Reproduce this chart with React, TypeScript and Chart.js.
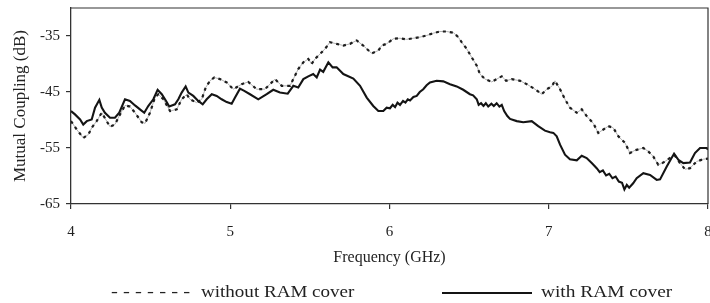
import React, { useEffect, useRef } from "react";
import { Chart, registerables } from "chart.js";

Chart.register(...registerables);

const xTicks = [4, 5, 6, 7, 8];
const yTicks = [-65, -55, -45, -35];

const withoutLabel = "without RAM cover";
const withLabel = "with RAM cover";

const withoutFreq = [
  4.0, 4.036, 4.077, 4.109, 4.13, 4.161, 4.193, 4.224, 4.245, 4.276, 4.308, 4.339, 4.37, 4.402,
  4.444, 4.465, 4.496, 4.527, 4.548, 4.58, 4.622, 4.664, 4.695, 4.727, 4.747, 4.789, 4.821, 4.846,
  4.873, 4.9, 4.936, 4.978, 5.019, 5.072, 5.113, 5.166, 5.218, 5.281, 5.323, 5.375, 5.396, 5.427,
  5.459, 5.49, 5.511, 5.532, 5.564, 5.595, 5.626, 5.668, 5.71, 5.752, 5.794, 5.835, 5.888, 5.93,
  5.951, 5.982, 6.024, 6.066, 6.108, 6.149, 6.192, 6.234, 6.275, 6.317, 6.359, 6.401, 6.432, 6.453,
  6.485, 6.516, 6.548, 6.568, 6.6, 6.642, 6.673, 6.705, 6.732, 6.767, 6.82, 6.862, 6.914, 6.956,
  6.987, 7.019, 7.039, 7.071, 7.102, 7.133, 7.176, 7.207, 7.238, 7.28, 7.311, 7.343, 7.374, 7.405,
  7.437, 7.479, 7.51, 7.542, 7.594, 7.625, 7.656, 7.688, 7.719, 7.761, 7.793, 7.824, 7.856, 7.887,
  7.929, 7.971, 8.0,
];
const withoutDb = [
  -50.2, -51.7, -53.2, -52.6, -51.4, -50.2, -48.7, -50.2, -51.2, -50.8, -49.0, -47.4, -47.6, -48.7,
  -50.4, -50.6, -48.7, -46.0, -45.4, -46.3, -48.4, -48.1, -46.3, -45.4, -46.3, -46.9, -46.3, -44.2,
  -43.0, -42.4, -42.7, -43.3, -44.5, -43.6, -43.2, -44.5, -44.5, -42.7, -43.9, -43.9, -42.7, -40.9,
  -39.7, -39.1, -40.0, -39.1, -38.2, -37.3, -36.1, -36.4, -36.7, -36.4, -35.8, -36.7, -38.1, -37.6,
  -36.7, -36.4, -35.5, -35.4, -35.6, -35.4, -35.2, -34.9, -34.5, -34.2, -34.2, -34.4, -35.2, -36.1,
  -37.3, -38.8, -40.3, -41.8, -42.7, -43.2, -42.7, -42.2, -43.0, -42.7, -43.0, -43.6, -44.5, -45.4,
  -44.5, -44.0, -43.0, -44.5, -46.3, -47.8, -48.7, -48.1, -49.3, -50.6, -52.3, -51.7, -51.1, -51.4,
  -52.9, -54.1, -55.9, -55.4, -55.0, -55.6, -56.5, -58.0, -57.6, -56.8, -56.4, -57.7, -58.8, -58.6,
  -57.4, -57.0, -56.9,
];

const withFreq = [
  4.0, 4.025, 4.057, 4.077, 4.099, 4.13, 4.151, 4.178, 4.193, 4.213, 4.245, 4.276, 4.303, 4.339,
  4.37, 4.402, 4.433, 4.46, 4.485, 4.517, 4.544, 4.57, 4.597, 4.617, 4.653, 4.674, 4.695, 4.72,
  4.737, 4.768, 4.799, 4.827, 4.852, 4.884, 4.915, 4.946, 4.978, 5.009, 5.03, 5.061, 5.088, 5.124,
  5.176, 5.229, 5.27, 5.312, 5.361, 5.396, 5.427, 5.459, 5.49, 5.521, 5.543, 5.564, 5.584, 5.616,
  5.643, 5.668, 5.71, 5.773, 5.815, 5.857, 5.898, 5.93, 5.961, 5.982, 6.003, 6.02, 6.035, 6.05,
  6.066, 6.085, 6.1, 6.115, 6.129, 6.15, 6.171, 6.19, 6.212, 6.233, 6.254, 6.296, 6.338, 6.38,
  6.422, 6.463, 6.505, 6.525, 6.548, 6.56, 6.575, 6.59, 6.605, 6.62, 6.64, 6.655, 6.673, 6.69,
  6.705, 6.72, 6.74, 6.757, 6.799, 6.84, 6.893, 6.934, 6.976, 7.008, 7.029, 7.05, 7.071, 7.102,
  7.133, 7.176, 7.207, 7.238, 7.27, 7.301, 7.32, 7.34, 7.36, 7.38, 7.4, 7.42, 7.44, 7.46,
  7.475, 7.49, 7.505, 7.53, 7.552, 7.594, 7.636, 7.678, 7.699, 7.741, 7.787, 7.814, 7.845, 7.887,
  7.918, 7.95, 7.992, 8.0,
];
const withDb = [
  -48.4, -49.0, -49.9, -50.8, -50.2, -49.9, -47.8, -46.4, -47.8, -48.7, -49.6, -49.6, -48.7, -46.3,
  -46.6, -47.4, -48.1, -48.7, -47.5, -46.3, -44.6, -45.4, -46.6, -47.6, -47.2, -46.3, -45.1, -44.0,
  -45.1, -45.7, -46.6, -47.2, -46.3, -45.4, -45.7, -46.3, -46.8, -47.1, -46.0, -44.4, -44.8, -45.4,
  -46.3, -45.4, -44.6, -45.1, -45.3, -43.9, -44.2, -42.7, -42.2, -41.8, -42.4, -41.0, -41.4, -39.7,
  -40.6, -40.6, -41.8, -42.6, -43.9, -46.0, -47.5, -48.4, -48.4, -47.8, -47.9, -47.3, -47.7, -46.9,
  -47.3, -46.6, -46.9, -46.3, -46.5, -45.9, -45.7, -45.0, -44.5, -43.8, -43.3, -43.0, -43.1, -43.6,
  -44.0, -44.6, -45.4, -45.6, -46.3, -47.3, -47.0, -47.5, -47.0, -47.6, -47.1, -47.5, -47.0, -47.6,
  -47.3, -48.4, -49.3, -49.8, -50.2, -50.4, -50.2, -51.1, -51.9, -52.2, -52.3, -52.9, -54.4, -56.2,
  -57.0, -57.2, -56.4, -56.8, -57.7, -58.6, -59.3, -59.0, -59.9, -59.6, -60.4, -60.1, -61.0, -61.2,
  -62.4, -61.6, -62.1, -61.3, -60.4, -59.5, -59.8, -60.7, -60.6, -58.3, -56.0, -57.1, -57.7, -57.6,
  -55.9, -55.0, -55.0, -55.3,
];

const FONT = "'Liberation Serif', 'Times New Roman', serif";
const INK = "#222";

const framePlugin = {
  id: "frame",
  afterDatasetsDraw(chart: any) {
    const { ctx, chartArea } = chart;
    const { left, top, right, bottom } = chartArea;
    ctx.save();
    ctx.strokeStyle = "#333";
    ctx.lineWidth = 1.2;
    ctx.beginPath();
    ctx.moveTo(left, top);
    ctx.lineTo(right, top);
    ctx.lineTo(right, bottom);
    ctx.stroke();
    ctx.restore();
  },
};

export default function App() {
  const canvasRef = useRef<HTMLCanvasElement | null>(null);

  useEffect(() => {
    document.body.style.margin = "0";
    const canvas = canvasRef.current;
    if (!canvas) return;
    const withoutPts = withoutFreq.map((f, i) => ({ x: f, y: withoutDb[i] }));
    const withPts = withFreq.map((f, i) => ({ x: f, y: withDb[i] }));

    const chart = new Chart(canvas, {
      type: "line",
      data: {
        datasets: [
          {
            label: withLabel,
            data: withPts,
            borderColor: "#141414",
            borderWidth: 2.1,
            pointRadius: 0,
            tension: 0,
            order: 0,
          },
          {
            label: withoutLabel,
            data: withoutPts,
            borderColor: "#1e1e1e",
            borderWidth: 2.2,
            borderDash: [3, 4],
            pointRadius: 0,
            tension: 0,
            order: 1,
          },
          {
            label: withoutLabel + " (trace)",
            data: withoutPts,
            borderColor: "#b0b0b0",
            borderWidth: 1,
            pointRadius: 0,
            tension: 0,
            order: 2,
          },
        ],
      },
      options: {
        animation: false,
        responsive: false,
        devicePixelRatio: 1,
        layout: { padding: { top: 8, right: 2, left: 0, bottom: 0 } },
        plugins: {
          legend: { display: false },
          tooltip: { enabled: false },
        },
        scales: {
          x: {
            type: "linear",
            min: 4,
            max: 8,
            afterBuildTicks: (scale: any) => {
              scale.ticks = xTicks.map((v) => ({ value: v }));
            },
            afterFit: (scale: any) => {
              scale.height = 99;
              scale.paddingLeft = 0;
              scale.paddingRight = 0;
            },
            ticks: {
              font: { family: FONT, size: 15 },
              color: INK,
              padding: 14,
              maxRotation: 0,
              callback: (v: any) => String(v),
            },
            grid: {
              drawOnChartArea: false,
              drawTicks: true,
              tickLength: 5,
              color: "#333",
              lineWidth: 1.2,
            },
            border: { display: true, color: "#333", width: 1.3 },
            title: {
              display: true,
              text: "Frequency (GHz)",
              font: { family: FONT, size: 16 },
              color: INK,
              padding: { top: 0, bottom: 36 },
            },
          },
          y: {
            type: "linear",
            min: -65,
            max: -30,
            afterBuildTicks: (scale: any) => {
              scale.ticks = yTicks.map((v) => ({ value: v }));
            },
            afterFit: (scale: any) => {
              scale.width = 71;
              scale.paddingTop = 0;
              scale.paddingBottom = 0;
            },
            ticks: {
              font: { family: FONT, size: 15 },
              color: INK,
              padding: 6,
              callback: (v: any) => String(v),
            },
            grid: {
              drawOnChartArea: false,
              drawTicks: true,
              tickLength: 5,
              color: "#333",
              lineWidth: 1.2,
            },
            border: { display: true, color: "#333", width: 1.3 },
            title: {
              display: true,
              text: "Mutual Coupling (dB)",
              font: { family: FONT, size: 17 },
              color: INK,
              padding: { top: 10, bottom: 0 },
            },
          },
        },
      },
      plugins: [framePlugin],
    });
    return () => chart.destroy();
  }, []);

  const textStyle: React.CSSProperties = {
    position: "absolute",
    top: 283.6,
    fontFamily: FONT,
    fontSize: 16,
    lineHeight: "16px",
    color: INK,
    whiteSpace: "nowrap",
    transformOrigin: "left center",
  };

  return (
    <div style={{ position: "relative", width: 710, height: 303, background: "#fff" }}>
      <canvas ref={canvasRef} width={710} height={303} style={{ display: "block" }} />
      <span style={{ ...textStyle, left: 111, transform: "scaleX(1.29)" }}>- - - - - - -</span>
      <span style={{ ...textStyle, left: 201, transform: "scaleX(1.19)" }}>{withoutLabel}</span>
      <div
        style={{
          position: "absolute",
          left: 442,
          top: 292,
          width: 90,
          height: 2,
          background: "#141414",
        }}
      />
      <span style={{ ...textStyle, left: 541, transform: "scaleX(1.21)" }}>{withLabel}</span>
    </div>
  );
}
